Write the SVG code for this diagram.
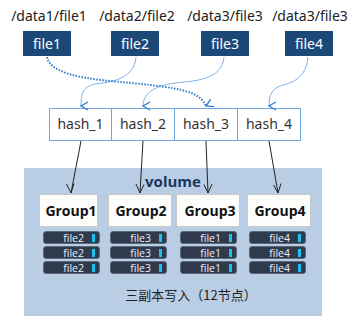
<svg xmlns="http://www.w3.org/2000/svg" width="360" height="317" viewBox="0 0 360 317">
<style>
.lbl{font-family:"Noto Sans","Open Sans",sans-serif;font-size:14px;fill:#222;text-anchor:middle}
.fbox{fill:#1b4876}
.ftxt{font-family:"Noto Sans","Open Sans",sans-serif;font-size:14px;fill:#fff;text-anchor:middle}
.hbox{fill:#fff;stroke:#6fa8dc;stroke-width:1}
.htxt{font-family:"Noto Sans","Open Sans",sans-serif;font-size:14px;fill:#333;text-anchor:middle}
.gbox{fill:#fdfdfc;stroke:#c8c8c8;stroke-width:1}
.gtxt{font-family:"Open Sans","Noto Sans",sans-serif;font-size:14px;font-weight:bold;fill:#111;text-anchor:middle}
.pill{fill:#2f3a4c;stroke:#566173;stroke-width:0.8}
.ptxt{font-family:"Open Sans","Noto Sans",sans-serif;font-size:10.5px;fill:#eef;text-anchor:end}
.bar{fill:#1ec0f0}
.curve{fill:none;stroke:#7fb2e5;stroke-width:1}
.dot{fill:none;stroke:#2f7cc9;stroke-width:2;stroke-dasharray:1.5 1.5}
.blk{fill:none;stroke:#222;stroke-width:1}
</style>
<defs>
<marker id="vb" markerWidth="10" markerHeight="10" refX="5" refY="8" orient="auto-start-reverse" markerUnits="userSpaceOnUse" viewBox="0 0 10 10">
<path d="M1,1 L5,8 L9,1" fill="none" stroke="#2f7cc9" stroke-width="1.3"/>
</marker>
</defs>
<rect id="volume" x="24" y="168" width="298" height="148" fill="#b9cde5"/>
<text x="173" y="187" font-family="Open Sans,Noto Sans,sans-serif" font-size="15" font-weight="bold" fill="#1c355e" text-anchor="middle">volume</text>

<g id="labels">
<text class="lbl" x="49" y="21">/data1/file1</text>
<text class="lbl" x="137" y="21">/data2/file2</text>
<text class="lbl" x="225" y="21">/data3/file3</text>
<text class="lbl" x="310" y="21">/data3/file3</text>
</g>
<g id="file1"><rect class="fbox" x="23" y="31" width="48" height="25"/><text class="ftxt" x="47" y="49">file1</text></g>
<g id="file2"><rect class="fbox" x="111" y="31" width="48" height="25"/><text class="ftxt" x="135" y="49">file2</text></g>
<g id="file3"><rect class="fbox" x="201" y="31" width="48" height="25"/><text class="ftxt" x="225" y="49">file3</text></g>
<g id="file4"><rect class="fbox" x="285" y="31" width="48" height="25"/><text class="ftxt" x="309" y="49">file4</text></g>

<g id="hash_1"><rect class="hbox" x="49.5" y="108.5" width="62" height="32"/><text class="htxt" x="80.5" y="129">hash_1</text></g>
<g id="hash_2"><rect class="hbox" x="111.5" y="108.5" width="63" height="32"/><text class="htxt" x="143" y="129">hash_2</text></g>
<g id="hash_3"><rect class="hbox" x="174.5" y="108.5" width="63" height="32"/><text class="htxt" x="206" y="129">hash_3</text></g>
<g id="hash_4"><rect class="hbox" x="237.5" y="108.5" width="63" height="32"/><text class="htxt" x="269" y="129">hash_4</text></g>

<g id="connectors">
<path class="curve" d="M136,57 C134,80 110,82 95,84 C82,87 81,95 81,106" marker-end="url(#vb)"/>
<path class="curve" d="M224,57 C222,80 195,81 175,83 C152,86 143,95 143,106" marker-end="url(#vb)"/>
<path class="curve" d="M308,57 C306,80 290,83 280,86 C270,90 269,98 269,106" marker-end="url(#vb)"/>
<path class="dot" d="M47,57 C52,80 110,80 150,85 C185,89 200,93 206,106" marker-end="url(#vb)"/>
<line class="blk" x1="81" y1="141" x2="71" y2="193"/>
<path d="M66.5,184 L71,193 L74,183.5" fill="none" stroke="#222" stroke-width="1"/>
<line class="blk" x1="143" y1="141" x2="140" y2="193"/>
<path d="M136,184 L140,193 L144,184.5" fill="none" stroke="#222" stroke-width="1"/>
<line class="blk" x1="206" y1="141" x2="208" y2="193"/>
<path d="M204,184.5 L208,193 L212,184" fill="none" stroke="#222" stroke-width="1"/>
<line class="blk" x1="269" y1="141" x2="278" y2="193"/>
<path d="M273.5,185 L278,193 L281,183.5" fill="none" stroke="#222" stroke-width="1"/>
</g>

<g id="Group1"><rect class="gbox" x="39.5" y="194.5" width="58" height="32"/><text class="gtxt" x="71" y="215.5">Group1</text></g>
<g id="Group2"><rect class="gbox" x="108.5" y="194.5" width="63" height="32"/><text class="gtxt" x="141" y="215.5">Group2</text></g>
<g id="Group3"><rect class="gbox" x="176.5" y="194.5" width="63" height="32"/><text class="gtxt" x="210" y="215.5">Group3</text></g>
<g id="Group4"><rect class="gbox" x="247.5" y="194.5" width="63" height="32"/><text class="gtxt" x="280" y="215.5">Group4</text></g>

<g id="replicas1">
<rect class="pill" x="43.5" y="231.5" width="56" height="12" rx="2.5"/><text class="ptxt" x="84" y="241.5">file2</text><rect class="bar" x="92" y="234" width="3" height="8"/>
<rect class="pill" x="43.5" y="246.5" width="56" height="12" rx="2.5"/><text class="ptxt" x="84" y="256.5">file2</text><rect class="bar" x="92" y="249" width="3" height="8"/>
<rect class="pill" x="43.5" y="261.5" width="56" height="12" rx="2.5"/><text class="ptxt" x="84" y="271.5">file2</text><rect class="bar" x="92" y="264" width="3" height="8"/>
</g>
<g id="replicas2">
<rect class="pill" x="110.5" y="231.5" width="56" height="12" rx="2.5"/><text class="ptxt" x="151" y="241.5">file3</text><rect class="bar" x="159" y="234" width="3" height="8"/>
<rect class="pill" x="110.5" y="246.5" width="56" height="12" rx="2.5"/><text class="ptxt" x="151" y="256.5">file3</text><rect class="bar" x="159" y="249" width="3" height="8"/>
<rect class="pill" x="110.5" y="261.5" width="56" height="12" rx="2.5"/><text class="ptxt" x="151" y="271.5">file3</text><rect class="bar" x="159" y="264" width="3" height="8"/>
</g>
<g id="replicas3">
<rect class="pill" x="180.5" y="231.5" width="56" height="12" rx="2.5"/><text class="ptxt" x="221" y="241.5">file1</text><rect class="bar" x="229" y="234" width="3" height="8"/>
<rect class="pill" x="180.5" y="246.5" width="56" height="12" rx="2.5"/><text class="ptxt" x="221" y="256.5">file1</text><rect class="bar" x="229" y="249" width="3" height="8"/>
<rect class="pill" x="180.5" y="261.5" width="56" height="12" rx="2.5"/><text class="ptxt" x="221" y="271.5">file1</text><rect class="bar" x="229" y="264" width="3" height="8"/>
</g>
<g id="replicas4">
<rect class="pill" x="249.5" y="231.5" width="56" height="12" rx="2.5"/><text class="ptxt" x="290" y="241.5">file4</text><rect class="bar" x="298" y="234" width="3" height="8"/>
<rect class="pill" x="249.5" y="246.5" width="56" height="12" rx="2.5"/><text class="ptxt" x="290" y="256.5">file4</text><rect class="bar" x="298" y="249" width="3" height="8"/>
<rect class="pill" x="249.5" y="261.5" width="56" height="12" rx="2.5"/><text class="ptxt" x="290" y="271.5">file4</text><rect class="bar" x="298" y="264" width="3" height="8"/>
</g>
<text x="191" y="300" font-family="Noto Sans CJK SC,sans-serif" font-size="13" fill="#222" text-anchor="middle">三副本写入（12节点）</text>
</svg>
